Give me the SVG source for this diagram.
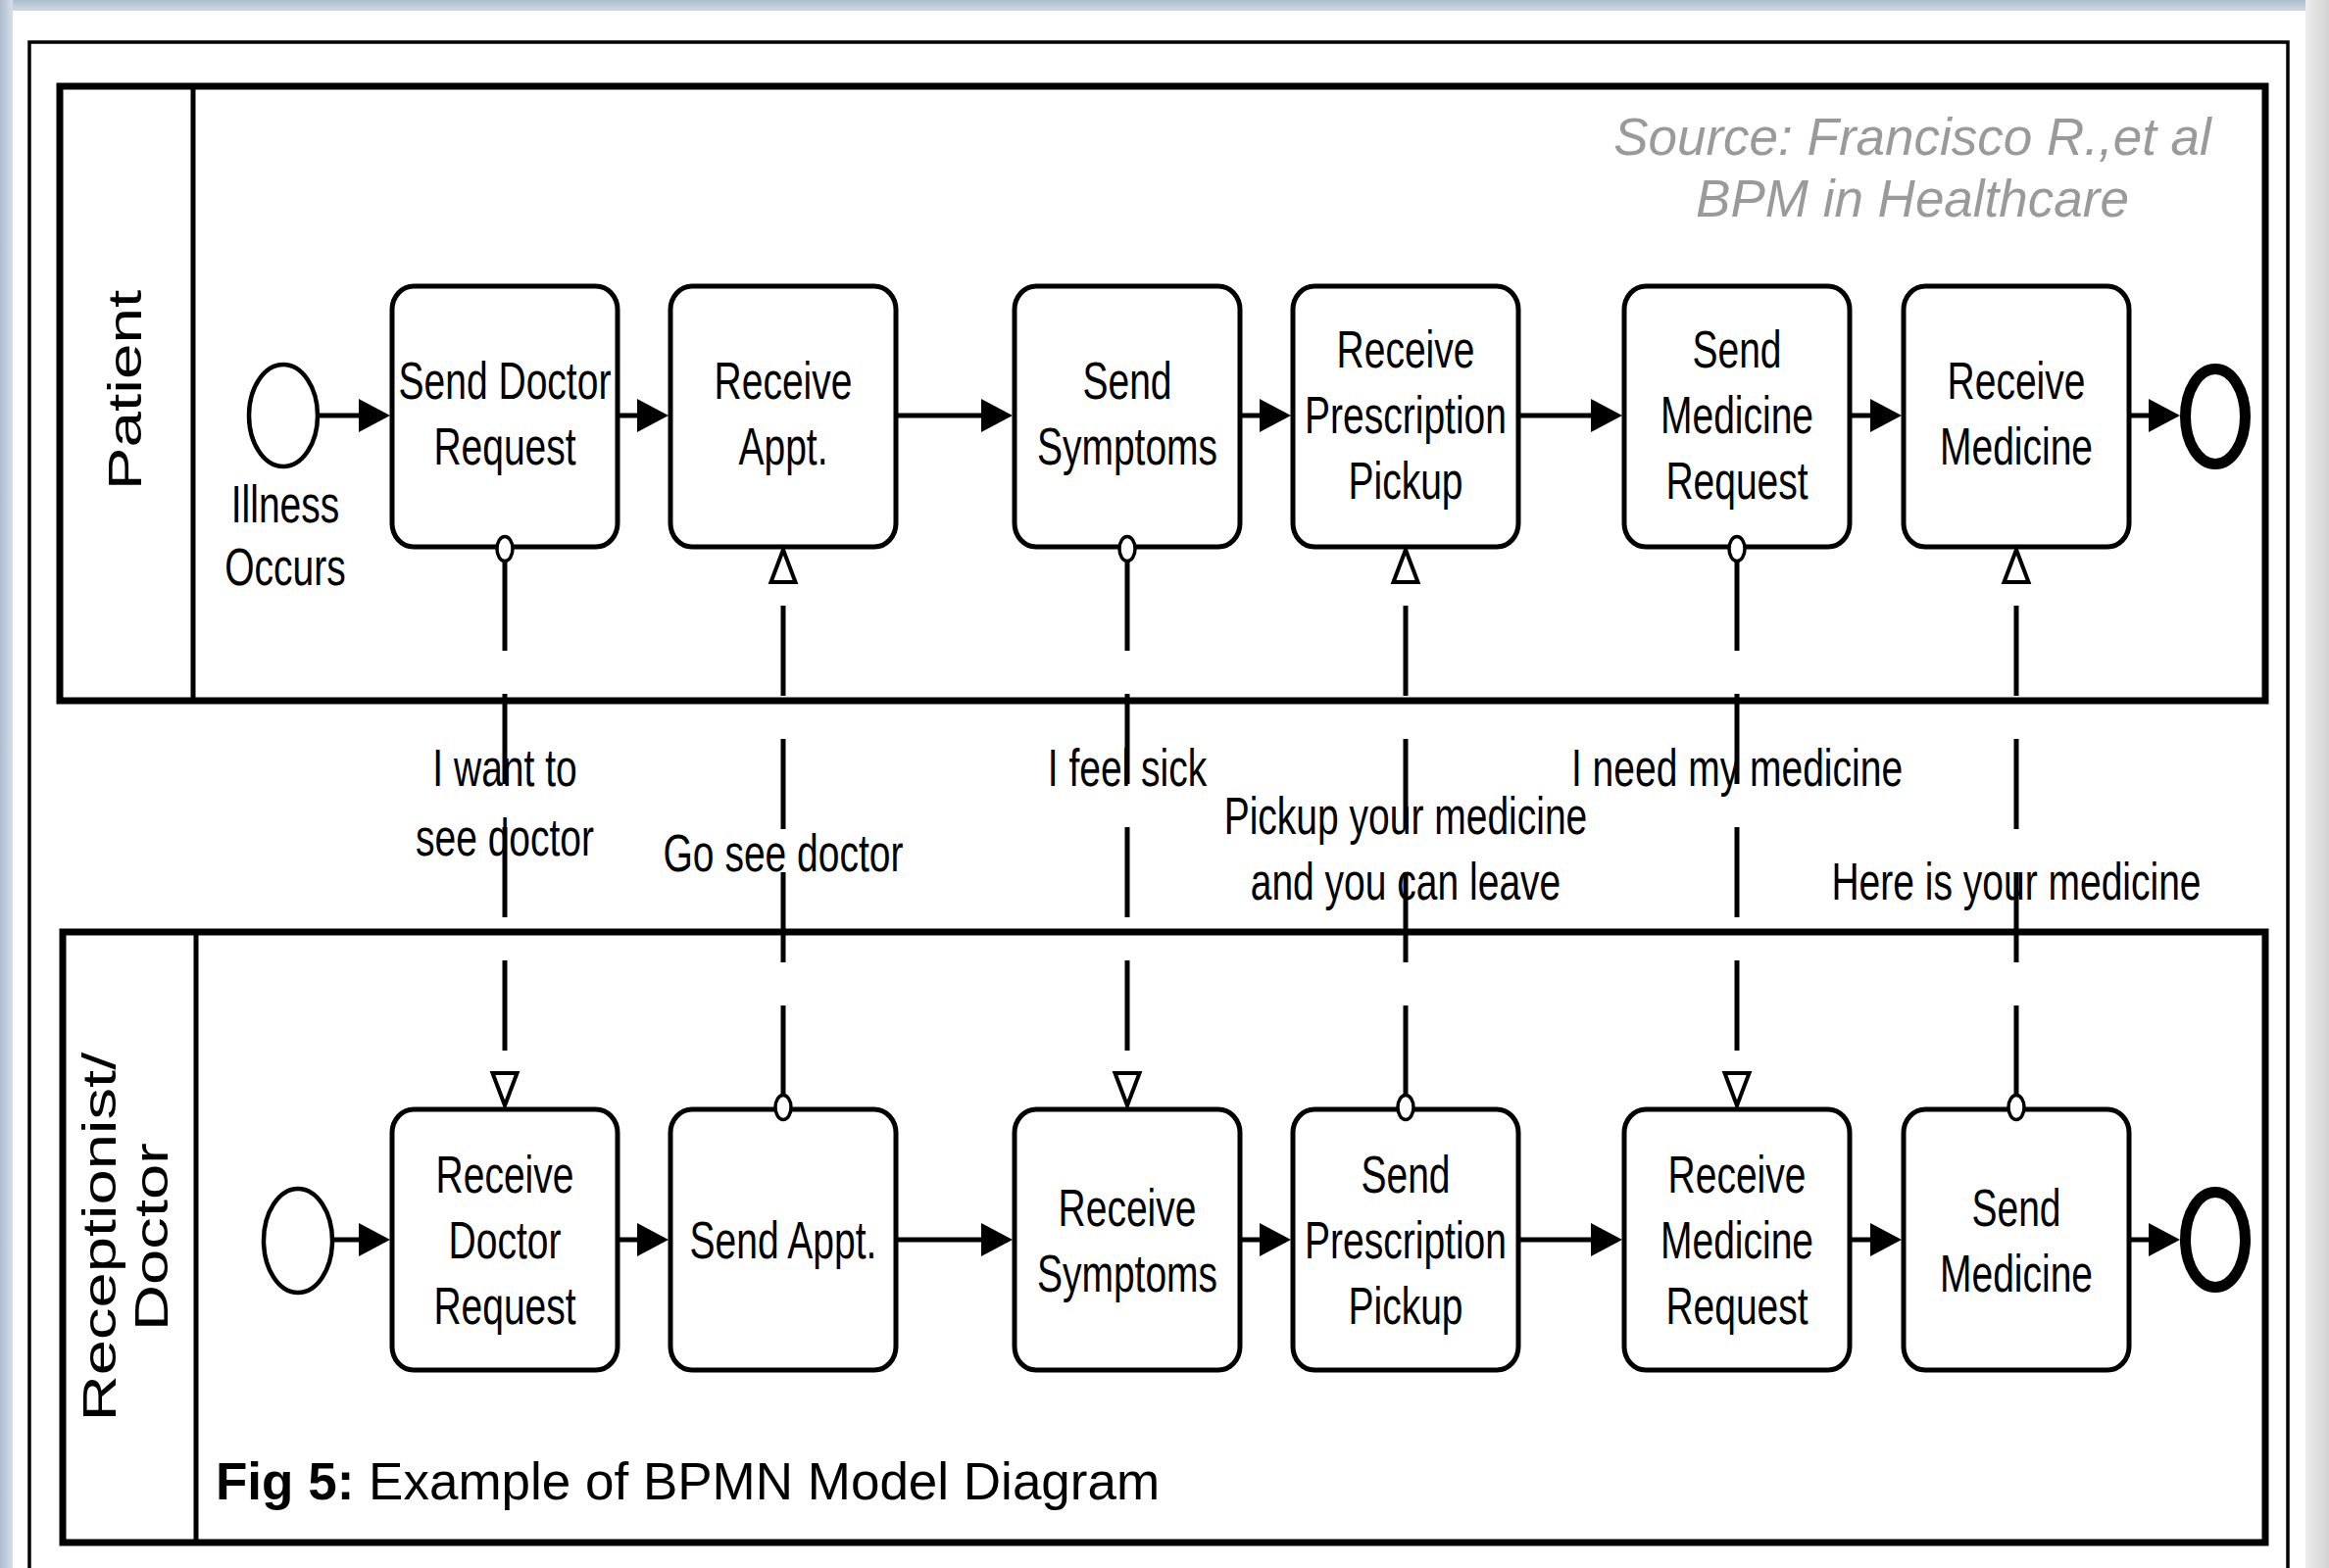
<svg xmlns="http://www.w3.org/2000/svg" width="2376" height="1600" viewBox="0 0 2376 1600">
<defs>
<style>
.t{font-family:"Liberation Sans",Arial,Helvetica,sans-serif;font-size:39px;fill:#000;text-anchor:middle}
.lane{font-family:"Liberation Sans",Arial,Helvetica,sans-serif;font-size:49px;fill:#000;text-anchor:middle}
.src{font-family:"Liberation Sans",Arial,Helvetica,sans-serif;font-size:53px;font-style:italic;fill:#9a9a9a;text-anchor:middle}
.cap{font-family:"Liberation Sans",Arial,Helvetica,sans-serif;font-size:53px;fill:#000}
.task{fill:#fff;stroke:#000;stroke-width:5}
.pool{fill:none;stroke:#000;stroke-width:7}
.div{stroke:#000;stroke-width:5}
.seq{fill:none;stroke:#000;stroke-width:5;marker-end:url(#arr)}
.msg{fill:none;stroke:#000;stroke-width:5;stroke-dasharray:92 44;marker-start:url(#msgStart);marker-end:url(#msgEnd)}
.start{fill:#fff;stroke:#000;stroke-width:4.5}
.end{fill:#fff;stroke:#000;stroke-width:11}
</style>
<linearGradient id="topband" x1="0" y1="0" x2="0" y2="1">
<stop offset="0" stop-color="#aebdcd"/><stop offset="1" stop-color="#cfd9e4"/>
</linearGradient>
<linearGradient id="leftband" x1="0" y1="0" x2="1" y2="0">
<stop offset="0" stop-color="#aebdcd"/><stop offset="1" stop-color="#d6dfe8"/>
</linearGradient>
<linearGradient id="rightband" x1="0" y1="0" x2="1" y2="0">
<stop offset="0" stop-color="#ececec"/><stop offset="1" stop-color="#d4d4d4"/>
</linearGradient>
<marker id="arr" markerUnits="userSpaceOnUse" viewBox="0 -18 34 36" markerWidth="34" markerHeight="36" refX="27" refY="0" orient="auto" overflow="visible">
<path d="M0,-17 L32,0 L0,17 z" fill="#000"/>
</marker>
<marker id="msgEnd" markerUnits="userSpaceOnUse" viewBox="-3 -16 44 32" markerWidth="44" markerHeight="32" refX="0" refY="0" orient="auto" overflow="visible">
<path d="M0,-12.5 L33,0 L0,12.5 z" fill="#fff" stroke="#000" stroke-width="4"/>
</marker>
<marker id="msgStart" markerUnits="userSpaceOnUse" viewBox="-16 -11 32 22" markerWidth="32" markerHeight="22" refX="12" refY="0" orient="auto" overflow="visible">
<ellipse cx="0" cy="0" rx="12.5" ry="8" fill="#fff" stroke="#000" stroke-width="3.5"/>
</marker>
</defs>

<!-- page background -->
<rect x="0" y="0" width="2376" height="1600" fill="#fff"/>
<rect x="0" y="0" width="2356" height="11" fill="url(#topband)"/>
<rect x="0" y="0" width="13" height="1600" fill="url(#leftband)"/>
<rect x="2352" y="0" width="24" height="1600" fill="url(#rightband)"/>
<rect x="30" y="43" width="2304" height="1600" fill="none" stroke="#000" stroke-width="3.5"/>

<!-- pools -->
<g id="pool-patient">
<rect class="pool" x="61" y="88" width="2250" height="627"/>
<line class="div" x1="197" y1="88" x2="197" y2="715"/>
<text class="lane" transform="translate(144,398) rotate(-90) scale(1.34,1)">Patient</text>
</g>
<g id="pool-receptionist">
<rect class="pool" x="64" y="951" width="2247" height="623"/>
<line class="div" x1="200" y1="951" x2="200" y2="1574"/>
<text class="lane" transform="translate(118,1262) rotate(-90) scale(1.33,1)">Receptionist/</text>
<text class="lane" transform="translate(171,1262) rotate(-90) scale(1.33,1)">Doctor</text>
</g>

<g id="source-note">
<text class="src" x="1951" y="158">Source: Francisco R.,et al</text>
<text class="src" x="1951" y="221">BPM in Healthcare</text>
</g>

<g id="caption">
<text class="cap" x="220" y="1530"><tspan font-weight="bold">Fig 5:</tspan> Example of BPMN Model Diagram</text>
</g>

<!-- patient lane nodes -->
<g id="p-start">
<ellipse class="start" cx="289" cy="424" rx="35" ry="52"/>
<text class="t" transform="translate(291,533) scale(1,1.36)"><tspan x="0" y="0">Illness</tspan><tspan x="0" y="47">Occurs</tspan></text>
</g>
<g id="p-send-doctor-request">
<rect class="task" x="400" y="292" width="230" height="266" rx="22" ry="24"/>
<text class="t" transform="translate(515,406.5) scale(1,1.36)"><tspan x="0" y="0">Send Doctor</tspan><tspan x="0" y="49.3">Request</tspan></text>
</g>
<g id="p-receive-appt">
<rect class="task" x="684" y="292" width="230" height="266" rx="22" ry="24"/>
<text class="t" transform="translate(799,406.5) scale(1,1.36)"><tspan x="0" y="0">Receive</tspan><tspan x="0" y="49.3">Appt.</tspan></text>
</g>
<g id="p-send-symptoms">
<rect class="task" x="1035" y="292" width="230" height="266" rx="22" ry="24"/>
<text class="t" transform="translate(1150,406.5) scale(1,1.36)"><tspan x="0" y="0">Send</tspan><tspan x="0" y="49.3">Symptoms</tspan></text>
</g>
<g id="p-receive-prescription-pickup">
<rect class="task" x="1319" y="292" width="230" height="266" rx="22" ry="24"/>
<text class="t" transform="translate(1434,375) scale(1,1.36)"><tspan x="0" y="0">Receive</tspan><tspan x="0" y="49.3">Prescription</tspan><tspan x="0" y="98.6">Pickup</tspan></text>
</g>
<g id="p-send-medicine-request">
<rect class="task" x="1657" y="292" width="230" height="266" rx="22" ry="24"/>
<text class="t" transform="translate(1772,375) scale(1,1.36)"><tspan x="0" y="0">Send</tspan><tspan x="0" y="49.3">Medicine</tspan><tspan x="0" y="98.6">Request</tspan></text>
</g>
<g id="p-receive-medicine">
<rect class="task" x="1942" y="292" width="230" height="266" rx="22" ry="24"/>
<text class="t" transform="translate(2057,406.5) scale(1,1.36)"><tspan x="0" y="0">Receive</tspan><tspan x="0" y="49.3">Medicine</tspan></text>
</g>
<g id="p-end">
<ellipse class="end" cx="2260" cy="425" rx="30.5" ry="48.5"/>
</g>

<!-- receptionist lane nodes -->
<g id="r-start">
<ellipse class="start" cx="304" cy="1266" rx="35" ry="53"/>
</g>
<g id="r-receive-doctor-request">
<rect class="task" x="400" y="1132" width="230" height="266" rx="22" ry="24"/>
<text class="t" transform="translate(515,1217) scale(1,1.36)"><tspan x="0" y="0">Receive</tspan><tspan x="0" y="49.3">Doctor</tspan><tspan x="0" y="98.6">Request</tspan></text>
</g>
<g id="r-send-appt">
<rect class="task" x="684" y="1132" width="230" height="266" rx="22" ry="24"/>
<text class="t" transform="translate(799,1284) scale(1,1.36)">Send Appt.</text>
</g>
<g id="r-receive-symptoms">
<rect class="task" x="1035" y="1132" width="230" height="266" rx="22" ry="24"/>
<text class="t" transform="translate(1150,1250.5) scale(1,1.36)"><tspan x="0" y="0">Receive</tspan><tspan x="0" y="49.3">Symptoms</tspan></text>
</g>
<g id="r-send-prescription-pickup">
<rect class="task" x="1319" y="1132" width="230" height="266" rx="22" ry="24"/>
<text class="t" transform="translate(1434,1217) scale(1,1.36)"><tspan x="0" y="0">Send</tspan><tspan x="0" y="49.3">Prescription</tspan><tspan x="0" y="98.6">Pickup</tspan></text>
</g>
<g id="r-receive-medicine-request">
<rect class="task" x="1657" y="1132" width="230" height="266" rx="22" ry="24"/>
<text class="t" transform="translate(1772,1217) scale(1,1.36)"><tspan x="0" y="0">Receive</tspan><tspan x="0" y="49.3">Medicine</tspan><tspan x="0" y="98.6">Request</tspan></text>
</g>
<g id="r-send-medicine">
<rect class="task" x="1942" y="1132" width="230" height="266" rx="22" ry="24"/>
<text class="t" transform="translate(2057,1250.5) scale(1,1.36)"><tspan x="0" y="0">Send</tspan><tspan x="0" y="49.3">Medicine</tspan></text>
</g>
<g id="r-end">
<ellipse class="end" cx="2260" cy="1265" rx="30.5" ry="48.5"/>
</g>

<!-- connectors -->
<g id="connectors">
<!-- sequence flows, patient -->
<path class="seq" d="M324,424 H393"/>
<path class="seq" d="M632,424 H677"/>
<path class="seq" d="M916,424 H1028"/>
<path class="seq" d="M1267,424 H1312"/>
<path class="seq" d="M1551,424 H1650"/>
<path class="seq" d="M1889,424 H1935"/>
<path class="seq" d="M2174,424 H2219"/>
<!-- sequence flows, receptionist -->
<path class="seq" d="M339,1265 H393"/>
<path class="seq" d="M632,1265 H677"/>
<path class="seq" d="M916,1265 H1028"/>
<path class="seq" d="M1267,1265 H1312"/>
<path class="seq" d="M1551,1265 H1650"/>
<path class="seq" d="M1889,1265 H1935"/>
<path class="seq" d="M2174,1265 H2219"/>
<!-- message flows -->
<path class="msg" d="M515,572 V1095"/>
<path class="msg" d="M799,1118 V594"/>
<path class="msg" d="M1150,572 V1095"/>
<path class="msg" d="M1434,1118 V594"/>
<path class="msg" d="M1772,572 V1095"/>
<path class="msg" d="M2057,1118 V594"/>
<!-- message labels -->
<text class="t" transform="translate(515,802) scale(1,1.36)"><tspan x="0" y="0">I want to</tspan><tspan x="0" y="52.2">see doctor</tspan></text>
<text class="t" transform="translate(799,889) scale(1,1.36)">Go see doctor</text>
<text class="t" transform="translate(1150,802) scale(1,1.36)">I feel sick</text>
<text class="t" transform="translate(1434,851) scale(1,1.36)"><tspan x="0" y="0">Pickup your medicine</tspan><tspan x="0" y="49.3">and you can leave</tspan></text>
<text class="t" transform="translate(1772,802) scale(1,1.36)">I need my medicine</text>
<text class="t" transform="translate(2057,918) scale(1,1.36)">Here is your medicine</text>
</g>
</svg>
